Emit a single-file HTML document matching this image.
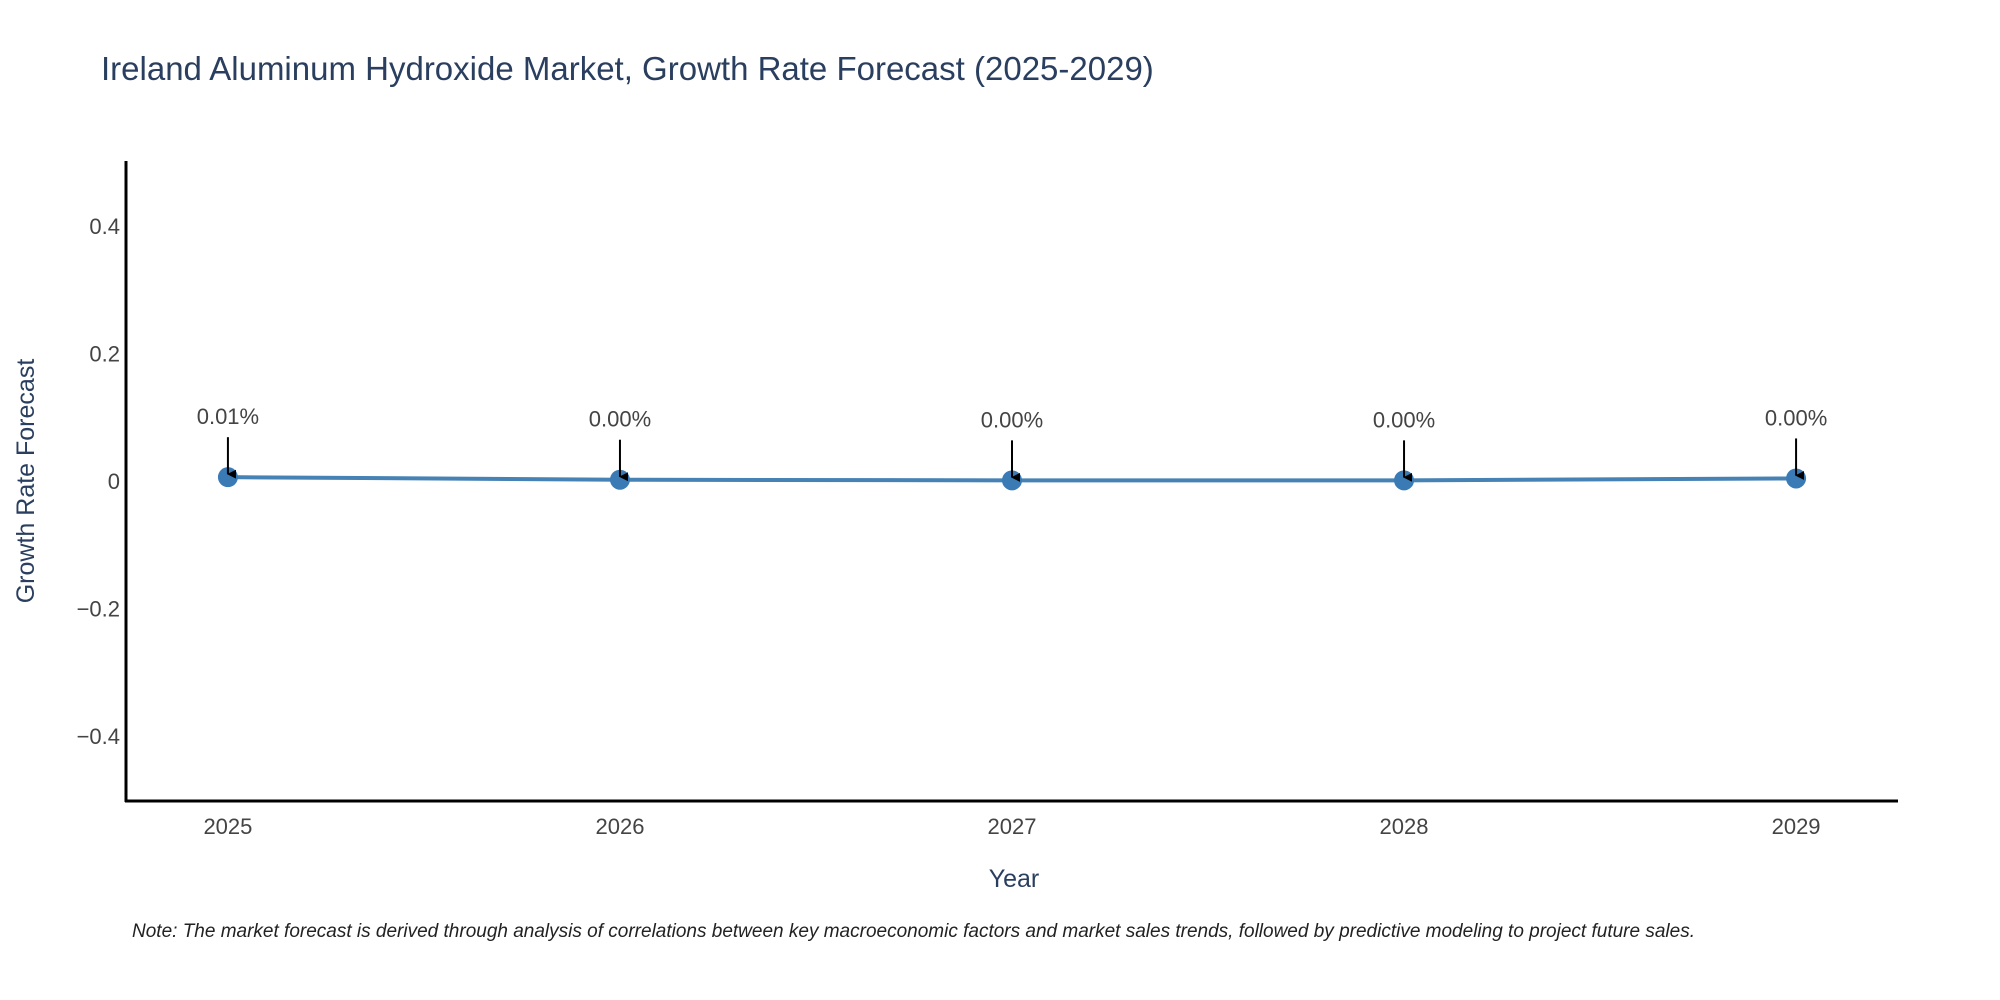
<!DOCTYPE html>
<html><head><meta charset="utf-8"><style>
html,body{margin:0;padding:0;background:#fff;}
svg{display:block;font-family:"Liberation Sans","DejaVu Sans",sans-serif;}
</style></head><body>
<svg id="chart" width="2000" height="1000" viewBox="0 0 2000 1000">
<defs><marker id="ah" viewBox="0 0 10 10" refX="5" refY="9" markerWidth="4.5" markerHeight="4.5" orient="auto-start-reverse"><path d="M0,0 L10,0 L5,10 z" fill="#000"/></marker></defs>
<text x="101" y="80" font-size="33" fill="#2a3f5f">Ireland Aluminum Hydroxide Market, Growth Rate Forecast (2025-2029)</text>
<g id="plot"></g>
<text transform="translate(34,481) rotate(-90)" text-anchor="middle" font-size="25" fill="#2a3f5f">Growth Rate Forecast</text>
<text x="1014" y="887" text-anchor="middle" font-size="25" fill="#2a3f5f">Year</text>
<text x="132" y="937" font-size="19" font-style="italic" fill="#222">Note: The market forecast is derived through analysis of correlations between key macroeconomic factors and market sales trends, followed by predictive modeling to project future sales.</text>
</svg>
<script>
const years = [2025, 2026, 2027, 2028, 2029];
const values = [0.006, 0.002, 0.001, 0.001, 0.004];
const labels = ["0.01%", "0.00%", "0.00%", "0.00%", "0.00%"];
const yTicks = [-0.4, -0.2, 0, 0.2, 0.4];
const yTickLabels = ["\u22120.4", "\u22120.2", "0", "0.2", "0.4"];

const NS = "http://www.w3.org/2000/svg";
const L = 126, R = 1898, T = 161, B = 801;
const xMin = 2024.74, xMax = 2029.26, yMin = -0.502, yMax = 0.502;
const xs = v => L + (v - xMin) / (xMax - xMin) * (R - L);
const ys = v => B - (v - yMin) / (yMax - yMin) * (B - T);
const g = document.getElementById('plot');
function mk(tag, attrs, parent) {
  const e = document.createElementNS(NS, tag);
  for (const k in attrs) e.setAttribute(k, attrs[k]);
  (parent || g).appendChild(e);
  return e;
}
yTicks.forEach((t, i) => {
  const e = mk('text', {x: 120, y: ys(t) + 8, 'text-anchor': 'end', 'font-size': 22, fill: '#444'});
  
  
  e.textContent = yTickLabels[i];
});
years.forEach(y => {
  const e = mk('text', {x: xs(y), y: 834, 'text-anchor': 'middle', 'font-size': 22, fill: '#444'});
  
  
  e.textContent = y;
});
const ya = mk('line', {x1: L, y1: T, x2: L, y2: B + 1, stroke: '#000', 'stroke-width': 3});


const xa = mk('line', {x1: L - 1, y1: B, x2: R, y2: B, stroke: '#000', 'stroke-width': 3});


const line = mk('polyline', {points: years.map((y, i) => xs(y) + ',' + ys(values[i])).join(' '), fill: 'none', stroke: '#4682b4', 'stroke-width': 4});


years.forEach((y, i) => {
  const c = mk('circle', {cx: xs(y), cy: ys(values[i]), r: 10, fill: '#3a7ab5'});
  
  
  const py = ys(values[i]);
  const a = mk('line', {x1: xs(y), y1: py - 40, x2: xs(y), y2: py - 3, stroke: '#000', 'stroke-width': 2, 'marker-end': 'url(#ah)'});
  
  
  const t = mk('text', {x: xs(y), y: py - 53, 'text-anchor': 'middle', 'font-size': 22, fill: '#444'});
  
  
  t.textContent = labels[i];
});
</script>
</body></html>
